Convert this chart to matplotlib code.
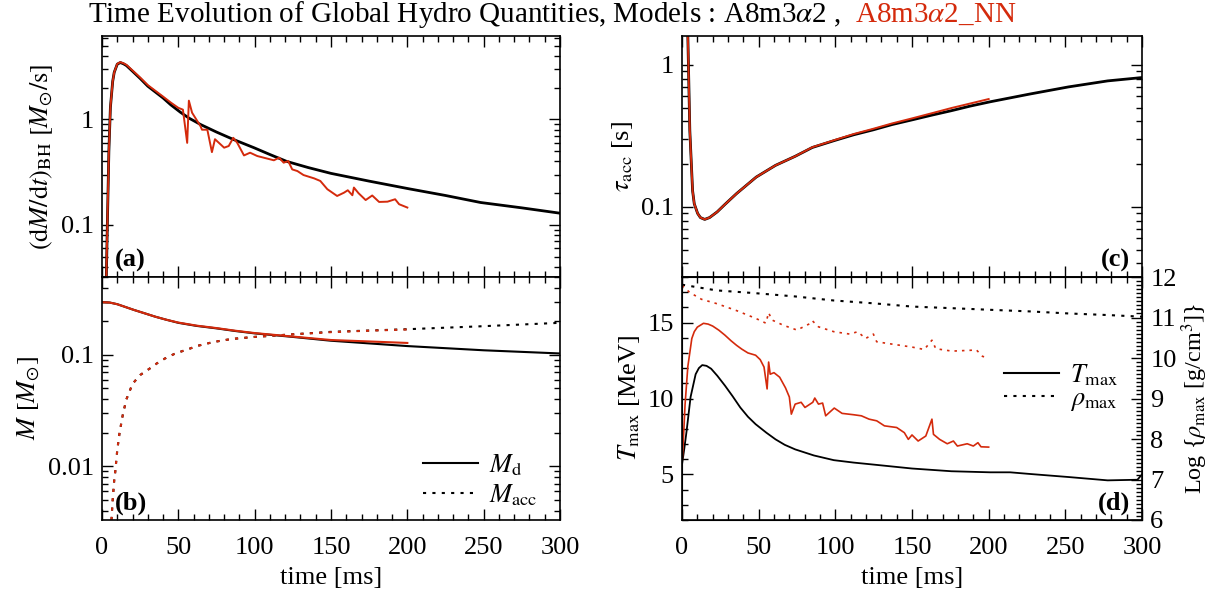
import numpy as np
import matplotlib.pyplot as plt
from matplotlib.lines import Line2D
from matplotlib.ticker import MultipleLocator, LogLocator, NullFormatter, FuncFormatter

plt.rcParams['font.family'] = ['Liberation Serif', 'DejaVu Serif']
plt.rcParams['mathtext.fontset'] = 'stix'
plt.rcParams['font.size'] = 19

RED = '#d42a0c'

# (a) accretion rate onto the BH [Msun/s]
t_mdot = [2.8, 3.5, 4.5, 5.5, 7, 8, 10, 12, 14, 16, 20, 25, 30, 40, 45, 51.4, 57,
          64.5, 75, 86, 99.5, 110, 121, 135, 150, 175, 201, 225, 248, 275, 300]
mdot = [0.03, 0.1, 0.5, 1.3, 2.3, 2.8, 3.35, 3.47, 3.38, 3.25, 2.87, 2.45, 2.07,
        1.6, 1.38, 1.17, 1.03, 0.897, 0.76, 0.647, 0.54, 0.465, 0.40, 0.35, 0.308,
        0.26, 0.22, 0.19, 0.163, 0.145, 0.129]
t_mdot_nn = [2.8, 3.5, 4.5, 5.5, 7, 8, 10, 12, 14, 16, 20, 25, 30, 40, 45, 50, 53,
             55.8, 56.9, 59, 64.5, 65.5, 69, 72, 74, 80, 83, 86, 88.6, 93, 97,
             101.7, 112.6, 116, 119, 122, 124.6, 128, 132, 139, 143, 147.6, 154,
             158.5, 161, 164, 165, 168, 172.7, 177, 181.5, 187, 192, 194.6, 200]
mdot_nn = [0.03, 0.1, 0.5, 1.3, 2.3, 2.8, 3.37, 3.5, 3.42, 3.3, 2.92, 2.5, 2.12,
           1.65, 1.45, 1.29, 1.24, 0.60, 1.51, 1.16, 0.865, 0.80, 0.80, 0.49, 0.65,
           0.54, 0.56, 0.67, 0.60, 0.456, 0.484, 0.45, 0.41, 0.434, 0.389, 0.403,
           0.336, 0.324, 0.297, 0.276, 0.261, 0.218, 0.188, 0.202, 0.213, 0.191,
           0.226, 0.20, 0.172, 0.19, 0.165, 0.166, 0.175, 0.157, 0.146]

# (b) disk mass and accreted mass [Msun]
t_md = [0, 5, 10, 15, 21, 28, 35, 42, 50, 62, 75, 87, 100, 125, 150, 200, 250, 300]
md = [0.297, 0.295, 0.285, 0.27, 0.253, 0.236, 0.22, 0.207, 0.194, 0.182, 0.173,
      0.164, 0.156, 0.145, 0.134, 0.120, 0.110, 0.103]
t_md_nn = [0, 5, 10, 15, 21, 28, 35, 42, 50, 62, 75, 87, 100, 125, 150, 175, 200]
md_nn = [0.297, 0.295, 0.285, 0.27, 0.253, 0.236, 0.22, 0.207, 0.195, 0.183, 0.174,
         0.165, 0.157, 0.146, 0.136, 0.132, 0.128]
t_macc = [6.2, 7, 8, 8.7, 10, 11.5, 13.7, 16, 20, 25, 31, 36, 41, 48, 56, 63, 73.6,
          85, 100, 125, 150, 200, 250, 300]
macc = [0.0033, 0.005, 0.0075, 0.009, 0.014, 0.02, 0.0294, 0.04, 0.055, 0.066,
        0.075, 0.084, 0.0925, 0.103, 0.112, 0.121, 0.131, 0.139, 0.145, 0.153,
        0.161, 0.170, 0.181, 0.194]
t_macc_nn = [6.2, 7, 8, 8.7, 10, 11.5, 13.7, 16, 20, 25, 31, 36, 41, 48, 56, 63,
             73.6, 85, 100, 125, 150, 175, 200]
macc_nn = [0.0033, 0.005, 0.0075, 0.009, 0.014, 0.02, 0.0294, 0.04, 0.055, 0.066,
           0.075, 0.084, 0.0925, 0.103, 0.112, 0.121, 0.131, 0.139, 0.145, 0.153,
           0.160, 0.165, 0.169]

# (c) accretion timescale [s]
t_tau = [3.0, 3.8, 5.1, 6.9, 8, 10.2, 12, 14.8, 18, 22.9, 28, 35.6, 48.4, 61,
         73.8, 85, 99.3, 112, 124.8, 137, 150, 163, 175.7, 188, 201, 226.6, 252,
         277.6, 300]
tau = [3.0, 1.6, 0.344, 0.13, 0.105, 0.0898, 0.084, 0.0815, 0.084, 0.092, 0.104,
       0.124, 0.162, 0.196, 0.227, 0.262, 0.293, 0.322, 0.349, 0.38, 0.41, 0.443,
       0.476, 0.513, 0.55, 0.623, 0.70, 0.772, 0.815]
t_tau_nn = [3.0, 3.8, 5.1, 6.9, 8, 10.2, 12, 14.8, 18, 22.9, 28, 35.6, 48.4, 61,
            73.8, 85, 99.3, 112, 124.8, 137, 150, 163, 175.7, 188, 200]
tau_nn = [3.0, 1.6, 0.344, 0.13, 0.105, 0.0898, 0.084, 0.0815, 0.084, 0.092,
          0.104, 0.124, 0.162, 0.196, 0.227, 0.263, 0.295, 0.326, 0.355, 0.387,
          0.42, 0.457, 0.497, 0.535, 0.575]

# (d) max temperature [MeV] and log max density [g/cm^3]
t_tmax = [0, 1.5, 3, 5.6, 8.9, 11, 13.2, 16, 19, 23, 28, 33, 38, 43, 48, 55, 61,
          67, 73.8, 86, 99, 112, 124.8, 150, 175.7, 201, 214, 227, 252, 277.6,
          297, 300]
tmax = [5.65, 6.7, 7.86, 10.1, 11.6, 12.0, 12.2, 12.15, 11.96, 11.5, 10.85, 10.15,
        9.41, 8.8, 8.31, 7.75, 7.31, 6.95, 6.65, 6.25, 5.94, 5.78, 5.65, 5.39,
        5.21, 5.14, 5.14, 5.03, 4.83, 4.61, 4.65, 5.0]
t_tmax_nn = [0, 1, 2, 3.8, 6.4, 8, 10, 14, 17, 20, 24, 28, 32, 35.6, 39, 43, 48,
             51, 53.5, 55.5, 56.5, 57.5, 60, 63.7, 67.5, 70, 71.3, 73.8, 77.7,
             80.2, 85.3, 86.6, 89, 91.7, 93.7, 99.3, 104.4, 112, 117, 122, 127,
             132, 140, 145, 147.6, 150, 154, 159, 163, 164, 168, 173, 177, 179.6,
             186, 190, 193, 195, 200]
tmax_nn = [5.65, 7.5, 9.6, 12.1, 13.95, 14.4, 14.7, 14.95, 14.9, 14.77, 14.5,
           14.17, 13.8, 13.5, 13.25, 13.0, 12.85, 12.56, 12.07, 10.63, 12.4, 11.6,
           11.7, 11.4, 10.7, 10.1, 8.97, 9.63, 9.75, 9.41, 9.75, 10.03, 9.63, 9.7,
           8.86, 9.37, 9.02, 8.93, 8.86, 8.64, 8.53, 8.2, 8.09, 7.75, 7.31, 7.6,
           7.2, 7.53, 8.64, 7.64, 7.31, 7.02, 7.2, 6.87, 7.02, 6.87, 7.09, 6.82,
           6.8]
t_rho = [0, 22.4, 48, 73.8, 99, 125, 150, 176, 201, 227, 252, 278, 300]
rho = [11.81, 11.67, 11.6, 11.52, 11.42, 11.35, 11.27, 11.23, 11.19, 11.15, 11.1,
       11.06, 11.02]
t_rho_nn = [0, 5, 12.7, 22.9, 35.6, 48, 54.7, 56.5, 58.6, 66, 75, 84, 85, 89, 99,
            109.5, 114.6, 119.7, 124.8, 127, 137.5, 150, 158, 163, 165.5, 176,
            188, 192, 196, 200]
rho_nn = [11.79, 11.62, 11.45, 11.34, 11.17, 10.98, 10.86, 11.12, 10.94, 10.81,
          10.69, 10.86, 10.92, 10.77, 10.65, 10.59, 10.65, 10.48, 10.59, 10.4,
          10.34, 10.27, 10.21, 10.44, 10.23, 10.17, 10.19, 10.2, 10.04, 10.0]

W, H = 1212, 592
fig = plt.figure(figsize=(W / 100, H / 100), dpi=100)


def px_axes(x0, x1, y0, y1):
    return fig.add_axes([x0 / W, 1 - y1 / H, (x1 - x0) / W, (y1 - y0) / H])


ax_a = px_axes(102, 560, 36, 277)
ax_b = px_axes(102, 560, 277, 520)
ax_c = px_axes(682, 1142, 36, 277)
ax_d = px_axes(682, 1142, 277, 520)

fmt = FuncFormatter(lambda v, p: '%g' % v)
DOT = (0, (1.5, 3))


def style(ax, log=False):
    ax.set_xlim(0, 300)
    ax.xaxis.set_major_locator(MultipleLocator(50))
    ax.xaxis.set_minor_locator(MultipleLocator(10))
    if log:
        ax.set_yscale('log')
        ax.yaxis.set_major_locator(LogLocator(base=10))
        ax.yaxis.set_minor_locator(LogLocator(base=10, subs=np.arange(2, 10)))
        ax.yaxis.set_major_formatter(fmt)
        ax.yaxis.set_minor_formatter(NullFormatter())
    ax.tick_params(which='both', direction='in', top=True, right=True, width=1)
    ax.tick_params(which='major', length=8, pad=6)
    ax.tick_params(which='minor', length=4)
    ax.tick_params(axis='x', which='major', pad=12)
    for s in ax.spines.values():
        s.set_linewidth(1.2)


def leg(ax, labels, anchor, spacing):
    h = [Line2D([], [], color='black', lw=1.5),
         Line2D([], [], color='black', lw=1.5, ls=DOT)]
    ax.legend(h, labels, loc='lower left', bbox_to_anchor=anchor, frameon=False,
              handlelength=2.1, handletextpad=0.4, labelspacing=spacing,
              borderpad=0, borderaxespad=0)


# (a)
style(ax_a, log=True)
ax_a.plot(t_mdot, mdot, color='black', lw=2)
ax_a.plot(t_mdot_nn, mdot_nn, color=RED, lw=1.4)
ax_a.set_ylim(0.032, 6.2)
ax_a.tick_params(labelbottom=False)
ax_a.set_ylabel(r'$(\mathrm{d}M/\mathrm{d}t)_{\mathrm{BH}}\ [M_{\odot}/\mathrm{s}]$')
ax_a.text(0.028, 0.02, '(a)', transform=ax_a.transAxes, fontweight='bold', va='bottom')

# (b)
style(ax_b, log=True)
ax_b.plot(t_md, md, color='black', lw=1.5)
ax_b.plot(t_macc, macc, color='black', lw=1.5, ls=DOT)
ax_b.plot(t_md_nn, md_nn, color=RED, lw=1.5)
ax_b.plot(t_macc_nn, macc_nn, color=RED, lw=1.5, ls=DOT)
ax_b.set_ylim(0.0033, 0.5)
ax_b.set_xlabel('time [ms]', labelpad=6)
ax_b.set_ylabel(r'$M$ [$M_{\odot}$]')
ax_b.text(0.028, 0.02, '(b)', transform=ax_b.transAxes, fontweight='bold', va='bottom')
leg(ax_b, [r'$M_{\mathrm{d}}$', r'$M_{\mathrm{acc}}$'], (0.70, 0.05), 0.15)

# (c)
style(ax_c, log=True)
ax_c.plot(t_tau, tau, color='black', lw=2)
ax_c.plot(t_tau_nn, tau_nn, color=RED, lw=1.4)
ax_c.set_ylim(0.032, 1.6)
ax_c.tick_params(labelbottom=False)
ax_c.set_ylabel(r'$\tau_{\mathrm{acc}}$ [s]')
ax_c.text(0.975, 0.02, '(c)', transform=ax_c.transAxes, fontweight='bold',
          va='bottom', ha='right')

# (d)
style(ax_d)
ax_d.tick_params(right=False, which='both')
ax_d.yaxis.set_major_locator(MultipleLocator(5))
ax_d.yaxis.set_minor_locator(MultipleLocator(1))
ax_d.set_ylim(2, 18)
ax_d.plot(t_tmax, tmax, color='black', lw=1.3)
ax_d.plot(t_tmax_nn, tmax_nn, color=RED, lw=1.2)
ax_d.set_xlabel('time [ms]', labelpad=6)
ax_d.set_ylabel(r'$T_{\mathrm{max}}$ [MeV]')
ax_d.text(0.975, 0.02, '(d)', transform=ax_d.transAxes, fontweight='bold',
          va='bottom', ha='right')
ax_r = ax_d.twinx()
ax_r.set_ylim(6, 12)
ax_r.plot(t_rho, rho, color='black', lw=1.5, ls=DOT)
ax_r.plot(t_rho_nn, rho_nn, color=RED, lw=1.2, ls=DOT)
ax_r.yaxis.set_major_locator(MultipleLocator(1))
ax_r.yaxis.set_minor_locator(MultipleLocator(0.1))
ax_r.tick_params(which='both', direction='in', width=1)
ax_r.tick_params(which='major', length=8, pad=6)
ax_r.tick_params(which='minor', length=4)
ax_r.set_ylabel(r'Log {$\rho_{\mathrm{max}}$ [g/cm$^3$]}', fontsize=17.5, labelpad=2)
leg(ax_r, [r'$T_{\mathrm{max}}$', r'$\rho_{\mathrm{max}}$'], (0.70, 0.44), -0.05)

# title in two colours
t1 = fig.text(88 / W, 1 - 22 / H,
              r'Time Evolution of Global Hydro Quantities, Models : A8m3$\alpha$2 ,',
              va='baseline', ha='left', fontsize=21)
fig.canvas.draw()
bb = t1.get_window_extent()
fig.text((bb.x1 + 14) / W, 1 - 22 / H, r'A8m3$\alpha$2_NN', color=RED,
         va='baseline', ha='left', fontsize=21)

fig.savefig('out.png', dpi=100)
